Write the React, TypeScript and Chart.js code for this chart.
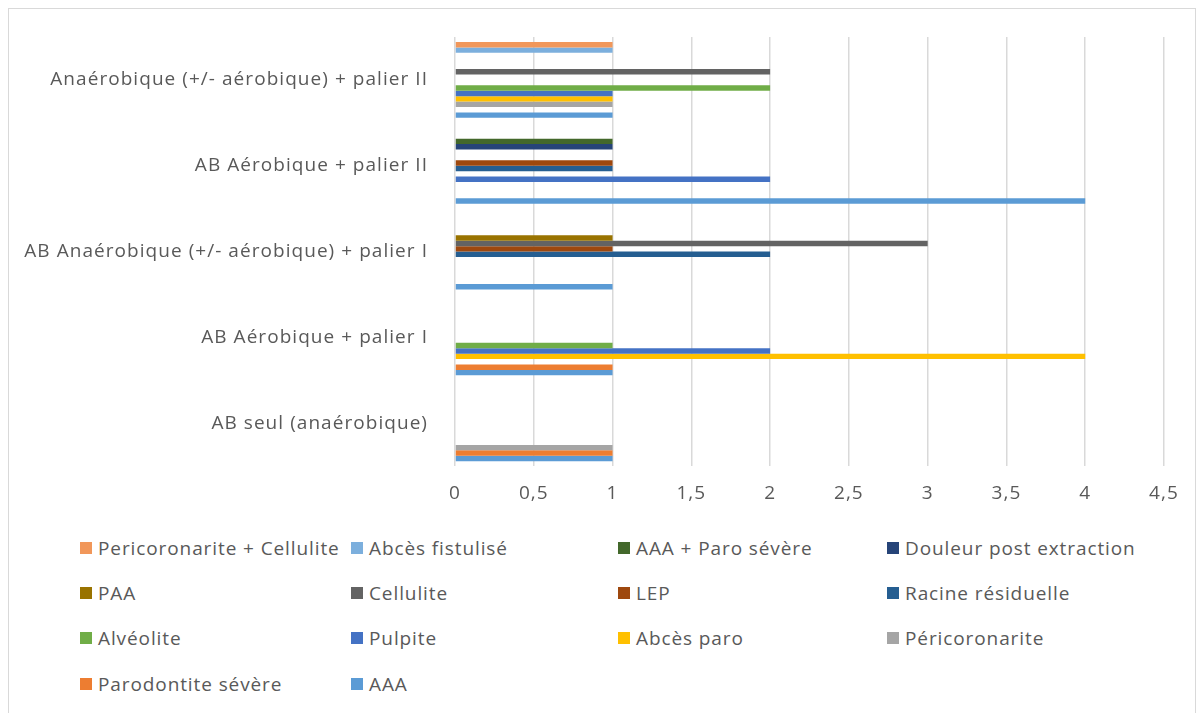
import React, { useEffect, useRef } from "react";
import { Chart, registerables } from "chart.js";

Chart.register(...registerables);

const categories = [
  "Anaérobique (+/- aérobique) + palier II",
  "AB Aérobique + palier II",
  "AB Anaérobique (+/- aérobique) + palier I",
  "AB Aérobique + palier I",
  "AB seul (anaérobique)",
];

const seriesNames = [
  "Pericoronarite + Cellulite",
  "Abcès fistulisé",
  "AAA + Paro sévère",
  "Douleur post extraction",
  "PAA",
  "Cellulite",
  "LEP",
  "Racine résiduelle",
  "Alvéolite",
  "Pulpite",
  "Abcès paro",
  "Péricoronarite",
  "Parodontite sévère",
  "AAA",
];

const pericoronariteCellulite = [1, 0, 0, 0, 0];
const abcesFistulise = [1, 0, 0, 0, 0];
const aaaParoSevere = [0, 1, 0, 0, 0];
const douleurPostExtraction = [0, 1, 0, 0, 0];
const paa = [0, 0, 1, 0, 0];
const cellulite = [2, 0, 3, 0, 0];
const lep = [0, 1, 1, 0, 0];
const racineResiduelle = [0, 1, 2, 0, 0];
const alveolite = [2, 0, 0, 1, 0];
const pulpite = [1, 2, 0, 2, 0];
const abcesParo = [1, 0, 0, 4, 0];
const pericoronarite = [1, 0, 0, 0, 1];
const parodontiteSevere = [0, 0, 0, 1, 1];
const aaa = [1, 4, 1, 1, 1];

const seriesValues = [
  pericoronariteCellulite,
  abcesFistulise,
  aaaParoSevere,
  douleurPostExtraction,
  paa,
  cellulite,
  lep,
  racineResiduelle,
  alveolite,
  pulpite,
  abcesParo,
  pericoronarite,
  parodontiteSevere,
  aaa,
];

const seriesColors = [
  "#F1975A",
  "#7CAFDD",
  "#43682B",
  "#264478",
  "#997300",
  "#636363",
  "#9E480E",
  "#255E91",
  "#70AD47",
  "#4472C4",
  "#FFC000",
  "#A5A5A5",
  "#ED7D31",
  "#5B9BD5",
];

const FONT = "'Open Sans', 'Noto Sans', sans-serif";
const TEXT = "#595959";
const CANVAS_SPACING = "1.05px";
const LEGEND_SPACING = "0.9px";

const spacingPlugin = {
  id: "letterSpacing",
  beforeInit(chart: any) {
    chart.ctx.letterSpacing = CANVAS_SPACING;
  },
  beforeLayout(chart: any) {
    chart.ctx.letterSpacing = CANVAS_SPACING;
  },
  beforeDraw(chart: any) {
    chart.ctx.letterSpacing = CANVAS_SPACING;
  },
};

export default function App() {
  const ref = useRef<HTMLCanvasElement | null>(null);

  useEffect(() => {
    if (!ref.current) return;
    const chart = new Chart(ref.current, {
      type: "bar",
      data: {
        labels: categories,
        datasets: seriesNames.map((name, i) => ({
          label: name,
          data: seriesValues[i],
          backgroundColor: seriesColors[i],
          borderWidth: 0,
          categoryPercentage: 0.883,
          barPercentage: 1,
        })),
      },
      plugins: [spacingPlugin],
      options: {
        indexAxis: "y",
        animation: false,
        responsive: false,
        maintainAspectRatio: false,
        layout: { padding: { top: 28, right: 31, bottom: 4, left: 0 } },
        plugins: {
          legend: { display: false },
          tooltip: { enabled: false },
        },
        scales: {
          x: {
            min: 0,
            max: 4.5,
            ticks: {
              stepSize: 0.5,
              color: TEXT,
              font: { family: FONT, size: 19 },
              padding: 16,
              callback: (v: any) => String(v).replace(".", ","),
            },
            grid: { color: "#D9D9D9", lineWidth: 1.5, drawTicks: false },
            border: { display: false },
          },
          y: {
            ticks: {
              color: TEXT,
              font: { family: FONT, size: 19 },
              padding: 0,
            },
            grid: { display: false, drawTicks: true, tickLength: 27 },
            border: { display: false },
            afterFit: (scale: any) => {
              scale.width = 446;
            },
          },
        },
      },
    });
    return () => chart.destroy();
  }, []);

  const legendLeft = [71, 342, 609, 878];
  const rowTop = [539, 584, 629, 675];

  return (
    <div
      style={{
        position: "relative",
        width: 1186,
        height: 710,
        border: "1px solid #D9D9D9",
        background: "#fff",
        fontFamily: FONT,
      }}
    >
      <canvas ref={ref} width={1186} height={516} style={{ display: "block" }} />
      {seriesNames.map((name, i) => {
        const col = i % 4;
        const row = Math.floor(i / 4);
        return (
          <div
            key={name}
            style={{
              position: "absolute",
              left: legendLeft[col],
              top: rowTop[row] - 13,
              height: 26,
              display: "flex",
              alignItems: "center",
              whiteSpace: "nowrap",
              color: TEXT,
              fontSize: 19,
              letterSpacing: LEGEND_SPACING,
            }}
          >
            <span
              style={{
                display: "inline-block",
                width: 12,
                height: 12,
                background: seriesColors[i],
                marginRight: 6,
              }}
            />
            <span>{name}</span>
          </div>
        );
      })}
    </div>
  );
}
